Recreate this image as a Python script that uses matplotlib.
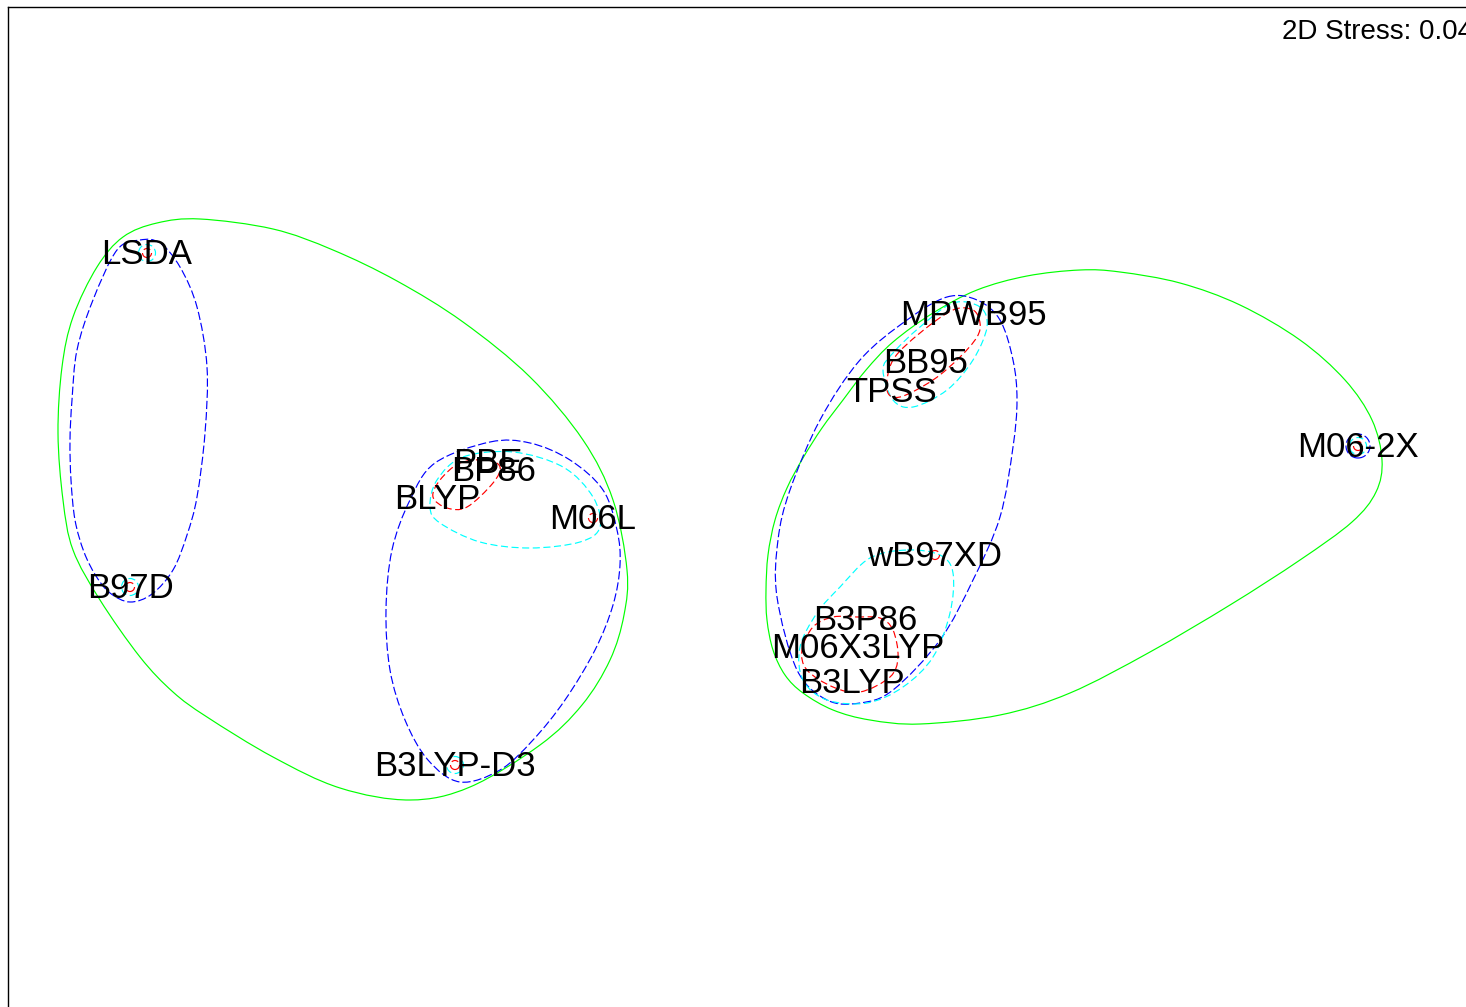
import numpy as np
import matplotlib
matplotlib.use("Agg")
import matplotlib.pyplot as plt
from matplotlib.path import Path
from matplotlib.patches import PathPatch, Circle

# 2D MDS ordination of the functionals
labels = ["LSDA", "B97D", "PBE", "BP86", "BLYP", "M06L", "B3LYP-D3",
          "MPWB95", "BB95", "TPSS", "M06-2X",
          "wB97XD", "B3P86", "M06X3LYP", "B3LYP"]
mds1 = [-5.73, -5.90, -2.32, -2.26, -2.83, -1.27, -2.65,
        2.53, 2.06, 1.72, 6.38,
        2.15, 1.45, 1.38, 1.32]
mds2 = [2.47, -0.87, 0.38, 0.30, 0.02, -0.18, -2.65,
        1.86, 1.38, 1.09, 0.54,
        -0.55, -1.19, -1.47, -1.82]
stress = 0.04

# cluster overlays (outline vertices), coarsest level first
green_left = [(-5.20, 2.81), (-4.47, 2.71), (-3.87, 2.50), (-3.23, 2.19), (-2.57, 1.78),
              (-1.90, 1.23), (-1.37, 0.60), (-1.07, 0.00), (-0.93, -0.70), (-0.96, -1.15),
              (-1.10, -1.60), (-1.38, -2.05), (-1.80, -2.45), (-2.50, -2.87), (-3.10, -3.00),
              (-3.80, -2.88), (-4.47, -2.57), (-5.13, -2.17), (-5.47, -1.92), (-5.80, -1.57),
              (-6.20, -1.00), (-6.47, -0.50), (-6.57, 0.00), (-6.62, 0.67), (-6.58, 1.33),
              (-6.47, 1.83), (-6.23, 2.33), (-5.97, 2.63), (-5.63, 2.77)]
green_right = [(3.60, 2.30), (4.00, 2.28), (4.60, 2.17), (5.20, 1.95), (5.80, 1.60),
               (6.25, 1.20), (6.52, 0.80), (6.62, 0.40), (6.56, 0.08), (6.32, -0.22),
               (5.80, -0.60), (5.10, -1.05), (4.30, -1.52), (3.50, -1.93), (2.80, -2.15),
               (2.00, -2.24), (1.50, -2.20), (1.13, -2.10), (0.83, -1.93), (0.65, -1.75),
               (0.53, -1.50), (0.47, -1.20), (0.46, -0.90), (0.48, -0.55), (0.55, -0.20),
               (0.67, 0.12), (0.83, 0.42), (1.02, 0.72), (1.23, 1.00), (1.46, 1.30),
               (1.73, 1.58), (2.13, 1.87), (2.57, 2.10), (3.07, 2.24)]
blue_lsda = [(-5.80, 2.60), (-5.60, 2.57), (-5.40, 2.33), (-5.23, 1.93), (-5.13, 1.33),
             (-5.15, 0.67), (-5.23, 0.03), (-5.33, -0.35), (-5.47, -0.70), (-5.68, -0.94),
             (-5.90, -1.02), (-6.10, -0.93), (-6.24, -0.76), (-6.36, -0.52), (-6.45, -0.20),
             (-6.49, 0.20), (-6.50, 0.60), (-6.48, 1.00), (-6.43, 1.50), (-6.27, 2.00),
             (-6.03, 2.50)]
blue_gga = [(-2.30, 0.58), (-1.90, 0.57), (-1.50, 0.40), (-1.17, 0.10), (-1.03, -0.30),
            (-1.00, -0.65), (-1.07, -1.05), (-1.25, -1.50), (-1.55, -2.00), (-1.87, -2.40),
            (-2.20, -2.70), (-2.60, -2.82), (-2.92, -2.60), (-3.15, -2.20), (-3.30, -1.70),
            (-3.34, -1.10), (-3.28, -0.50), (-3.10, 0.00), (-2.85, 0.37)]
blue_hybrid = [(2.27, 2.03), (2.57, 2.00), (2.80, 1.80), (2.93, 1.40), (2.97, 1.00),
               (2.93, 0.53), (2.80, -0.17), (2.53, -0.80), (2.20, -1.40), (1.73, -1.90),
               (1.40, -2.03), (1.07, -2.00), (0.77, -1.70), (0.57, -0.97), (0.58, -0.40),
               (0.70, 0.10), (1.00, 0.80), (1.40, 1.40), (1.87, 1.80)]
cyan_gga = [(-2.57, 0.43), (-2.07, 0.48), (-1.57, 0.33), (-1.27, 0.03), (-1.20, -0.27),
            (-1.40, -0.42), (-1.90, -0.48), (-2.40, -0.42), (-2.80, -0.23), (-2.90, -0.07),
            (-2.83, 0.20)]
cyan_meta = [(2.33, 1.97), (2.60, 1.93), (2.67, 1.73), (2.53, 1.40), (2.27, 1.10),
             (1.93, 0.93), (1.73, 1.00), (1.63, 1.30), (1.73, 1.47), (2.00, 1.73)]
cyan_hybrid = [(1.87, -0.50), (2.20, -0.55), (2.33, -0.73), (2.30, -1.13), (2.13, -1.57),
               (1.83, -1.87), (1.47, -2.03), (1.07, -2.00), (0.83, -1.80), (0.80, -1.47),
               (0.97, -1.13), (1.20, -0.87), (1.50, -0.58)]
red_gga = [(-2.33, 0.40), (-2.20, 0.33), (-2.27, 0.17), (-2.53, -0.07), (-2.73, -0.08),
           (-2.87, 0.03), (-2.80, 0.20), (-2.60, 0.37)]
red_meta = [(2.33, 1.90), (2.53, 1.90), (2.60, 1.77), (2.57, 1.63), (2.40, 1.43),
            (2.13, 1.20), (1.80, 1.03), (1.67, 1.10), (1.73, 1.40), (2.00, 1.67)]
red_hybrid = [(1.37, -1.17), (1.60, -1.18), (1.73, -1.30), (1.78, -1.57), (1.70, -1.77),
              (1.40, -1.92), (1.13, -1.87), (0.87, -1.70), (0.82, -1.50), (0.93, -1.27),
              (1.13, -1.17)]

# single-member groups at each level
red_single = ["LSDA", "B97D", "M06L", "B3LYP-D3", "M06-2X", "wB97XD"]
cyan_single = ["LSDA", "B97D", "B3LYP-D3", "M06-2X"]
blue_single = ["M06-2X"]


def smooth_closed(pts):
    # closed Catmull-Rom outline written as cubic Bezier segments
    P = np.asarray(pts, float)
    n = len(P)
    verts = [P[0]]
    codes = [Path.MOVETO]
    for i in range(n):
        p0, p1, p2, p3 = P[i - 1], P[i], P[(i + 1) % n], P[(i + 2) % n]
        verts += [p1 + (p2 - p0) / 6, p2 - (p3 - p1) / 6, p2]
        codes += [Path.CURVE4] * 3
    return Path(verts, codes)


fig = plt.figure(figsize=(14.66, 10.07), dpi=100)
ax = fig.add_axes([8 / 1466, -13 / 1007, 1472 / 1466, 1013 / 1007])
ax.set_xlim(-7.12, 7.60)
ax.set_ylim(-5.20, 4.93)
ax.set_xticks([])
ax.set_yticks([])
for sp in ax.spines.values():
    sp.set_linewidth(1.0)

dash_fine = (0, (6, 3))
dash_blue = (0, (7, 2.5))
levels = [
    ("#00ff00", "-", [green_left, green_right], [], None),
    ("#0000ff", dash_blue, [blue_lsda, blue_gga, blue_hybrid], blue_single, 0.12),
    ("#00ffff", dash_fine, [cyan_gga, cyan_meta, cyan_hybrid], cyan_single, 0.085),
    ("#ff0000", dash_fine, [red_gga, red_meta, red_hybrid], red_single, 0.045),
]
for color, ls, outlines, singles, r in levels:
    for pts in outlines:
        ax.add_patch(PathPatch(smooth_closed(pts), fill=False, ec=color, lw=0.85, ls=ls))
    for name in singles:
        i = labels.index(name)
        ax.add_patch(Circle((mds1[i], mds2[i]), r, fill=False, ec=color, lw=0.85, ls=ls))

for x, y, t in zip(mds1, mds2, labels):
    ax.text(x, y - 0.02, t, ha="center", va="center", fontsize=25, family="Liberation Sans")

fig.text(1282 / 1466, 1 - 39 / 1007, f"2D Stress: {stress}", fontsize=20,
         family="Liberation Sans", va="baseline")
fig.savefig("out.png", dpi=100)
